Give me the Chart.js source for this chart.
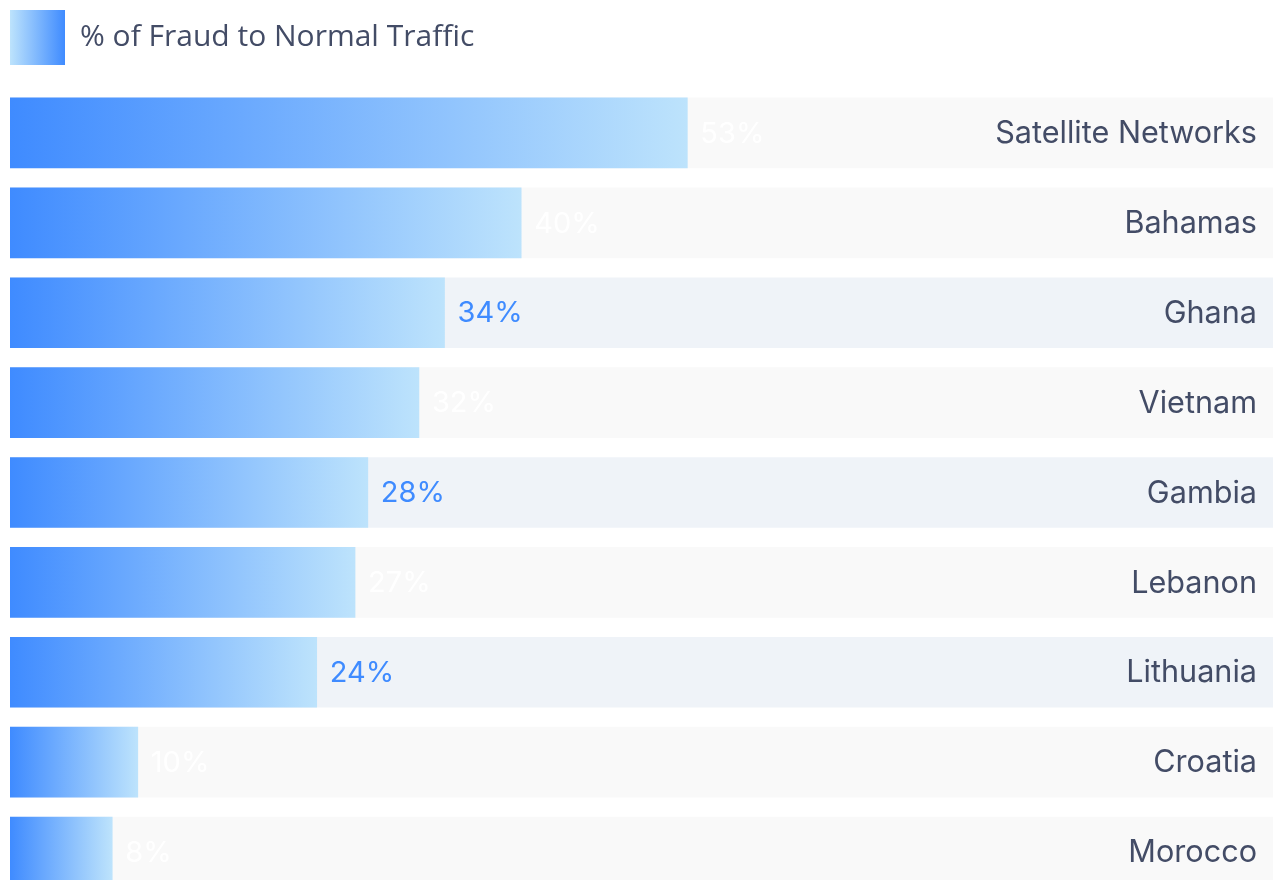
<!DOCTYPE html>
<html>
<head>
<meta charset="utf-8">
<script src="https://cdn.jsdelivr.net/npm/chart.js@4.4.1/dist/chart.umd.min.js"></script>
<style>
  html, body { margin: 0; padding: 0; background: #fff; overflow: hidden; }
  #wrap { position: absolute; left: 0; top: 0; width: 1300px; height: 900px; }
</style>
</head>
<body>
<div id="wrap"><canvas id="chart" width="1300" height="900"></canvas></div>
<script>
// data
const paises = ['Satellite Networks', 'Bahamas', 'Ghana', 'Vietnam', 'Gambia', 'Lebanon', 'Lithuania', 'Croatia', 'Morocco'];
const fraude = [53, 40, 34, 32, 28, 27, 24, 10, 8];
const pista = [100, 100, 100, 100, 100, 100, 100, 100, 100];
const serieNombre = '% of Fraud to Normal Traffic';

const AZUL = '#3f8bff';
const CELESTE = '#bde3fc';
const TEXTO = '#434c66';
const GRIS = '#f9f9f9';
const GRIS_AZUL = '#eff3f8';
// filas con fondo azulado (y etiqueta azul)
const filaAzul = [false, false, true, false, true, false, true, false, false];

function degradado(ctx) {
  const chart = ctx.chart;
  if (!chart.chartArea) return AZUL;
  const x = chart.scales.x;
  const x0 = x.getPixelForValue(0);
  const x1 = x.getPixelForValue(ctx.raw);
  const g = chart.ctx.createLinearGradient(x0, 0, x1, 0);
  g.addColorStop(0, AZUL);
  g.addColorStop(1, CELESTE);
  return g;
}

const etiquetas = {
  id: 'etiquetas',
  afterDatasetsDraw(chart) {
    const c = chart.ctx;
    const meta = chart.getDatasetMeta(0);
    const right = chart.scales.x.getPixelForValue(100) - 31;
    c.save();
    c.textBaseline = 'middle';
    meta.data.forEach((el, i) => {
      c.font = '29px Inter, sans-serif';
      c.textAlign = 'left';
      c.fillStyle = filaAzul[i] ? AZUL : '#ffffff';
      c.fillText(fraude[i] + '%', el.x + 13, el.y + 1);
      c.font = '30.6px Inter, sans-serif';
      c.textAlign = 'right';
      c.fillStyle = TEXTO;
      c.fillText(paises[i], right, el.y + 1);
    });
    c.restore();
  }
};

const margenLeyenda = {
  id: 'margenLeyenda',
  beforeInit(chart) {
    const fit = chart.legend.fit;
    chart.legend.fit = function () {
      fit.bind(chart.legend)();
      this.height += 13;
    };
  }
};

new Chart(document.getElementById('chart'), {
  type: 'bar',
  data: {
    labels: paises,
    datasets: [
      { label: serieNombre, data: fraude, backgroundColor: degradado, barThickness: 70, grouped: false, borderWidth: 0 },
      { label: 'pista', data: pista, backgroundColor: filaAzul.map(a => a ? GRIS_AZUL : GRIS), barThickness: 70, grouped: false, borderWidth: 0 }
    ]
  },
  options: {
    indexAxis: 'y',
    responsive: false,
    animation: false,
    layout: { padding: { left: 10, right: 12, top: 10, bottom: 3 } },
    plugins: {
      tooltip: { enabled: false },
      legend: {
        position: 'top',
        align: 'start',
        labels: {
          padding: 0,
          boxWidth: 55,
          boxHeight: 55,
          color: TEXTO,
          font: { size: 30, family: '"Open Sans", sans-serif' },
          generateLabels(chart) {
            const g = chart.ctx.createLinearGradient(10, 0, 65, 0);
            g.addColorStop(0, CELESTE);
            g.addColorStop(1, AZUL);
            return [{ text: serieNombre, fillStyle: g, fontColor: TEXTO, strokeStyle: 'rgba(0,0,0,0)', lineWidth: 0, hidden: false, datasetIndex: 0 }];
          }
        }
      }
    },
    scales: {
      x: { min: 0, max: 100, display: false, grid: { display: false } },
      y: { display: false, grid: { display: false } }
    }
  },
  plugins: [etiquetas, margenLeyenda]
});
</script>
</body>
</html>
